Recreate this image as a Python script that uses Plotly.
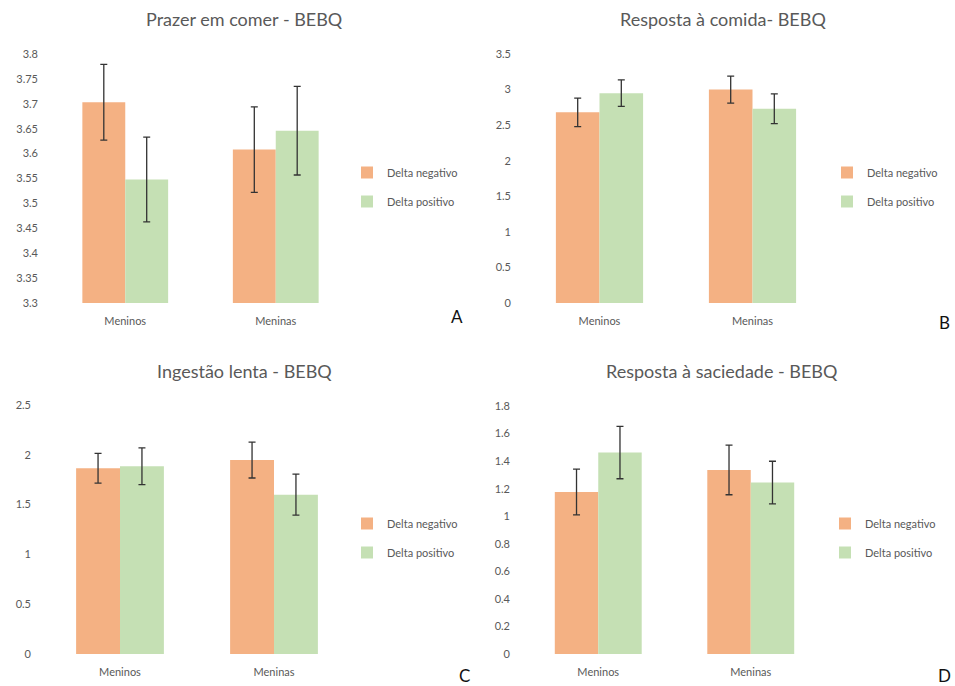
import plotly.graph_objects as go

W, H = 955, 686

categories = ["Meninos", "Meninas"]
series_names = ["Delta negativo", "Delta positivo"]

# Panel A - Prazer em comer
a_neg = [3.703, 3.608]
a_neg_err = [0.076, 0.086]
a_pos = [3.548, 3.646]
a_pos_err = [0.085, 0.089]

# Panel B - Resposta à comida
b_neg = [2.68, 3.00]
b_neg_err = [0.20, 0.19]
b_pos = [2.95, 2.73]
b_pos_err = [0.185, 0.21]

# Panel C - Ingestão lenta
c_neg = [1.865, 1.947]
c_neg_err = [0.15, 0.18]
c_pos = [1.885, 1.60]
c_pos_err = [0.185, 0.205]

# Panel D - Resposta à saciedade
d_neg = [1.176, 1.336]
d_neg_err = [0.166, 0.18]
d_pos = [1.462, 1.244]
d_pos_err = [0.19, 0.155]

titles = ["Prazer em comer - BEBQ", "Resposta à comida- BEBQ",
          "Ingestão lenta - BEBQ", "Resposta à saciedade - BEBQ"]
letters = ["A", "B", "C", "D"]
y_ranges = [[3.3, 3.8], [0, 3.5], [0, 2.5], [0, 1.8]]
y_dticks = [0.05, 0.5, 0.5, 0.2]

neg_color = "#F4B183"
pos_color = "#C5E0B4"
grey = "#595959"
FONT = "Lato"

# panel layout in pixels: (x0, x1, ytop, ybottom)
panels = [
    (50, 351, 54, 303),
    (523, 829, 54, 303),
    (43, 351, 405, 654),
    (522, 827, 406, 654),
]
legend_pos = [(347, 158), (827, 158), (347, 509), (825, 509)]
title_pos = [(244, 19), (723, 19), (244, 371), (722, 371)]
letter_pos = [(457, 316), (944, 322), (464, 675), (944, 675)]

data = [
    (a_neg, a_neg_err, a_pos, a_pos_err),
    (b_neg, b_neg_err, b_pos, b_pos_err),
    (c_neg, c_neg_err, c_pos, c_pos_err),
    (d_neg, d_neg_err, d_pos, d_pos_err),
]

fig = go.Figure()
layout = dict(
    width=W, height=H,
    margin=dict(l=0, r=0, t=0, b=0, autoexpand=False),
    paper_bgcolor="white", plot_bgcolor="white",
    barmode="group", bargap=0.43, bargroupgap=0,
    font=dict(family=FONT, color=grey, size=11),
    annotations=[],
)

for i, (neg, neg_err, pos, pos_err) in enumerate(data):
    k = "" if i == 0 else str(i + 1)
    xa, ya = "x" + k, "y" + k
    leg = "legend" + k
    for name, vals, errs, col, grp in [
        (series_names[0], neg, neg_err, neg_color, "n"),
        (series_names[1], pos, pos_err, pos_color, "p"),
    ]:
        fig.add_trace(go.Bar(
            x=categories, y=vals, name=name,
            marker=dict(color=col, line=dict(width=0)),
            error_y=dict(type="data", array=errs, visible=True,
                         color="#333333", thickness=1.3, width=3.5),
            xaxis=xa, yaxis=ya, legend=leg, legendgroup=grp + k,
            showlegend=True,
        ))
    x0, x1, yt, yb = panels[i]
    layout["xaxis" + k] = dict(
        domain=[x0 / W, x1 / W], anchor=ya, showgrid=False, showline=False,
        zeroline=False, ticks="", tickfont=dict(size=11, color=grey),
        ticklabelstandoff=10, fixedrange=True,
    )
    layout["yaxis" + k] = dict(
        domain=[1 - yb / H, 1 - yt / H], anchor=xa, range=y_ranges[i],
        dtick=y_dticks[i], tick0=y_ranges[i][0], showgrid=False,
        showline=False, zeroline=False, ticks="",
        tickfont=dict(size=11, color=grey), ticklabelstandoff=11,
        fixedrange=True,
    )
    lx, ly = legend_pos[i]
    layout[leg] = dict(
        x=lx / W, y=1 - ly / H, xanchor="left", yanchor="top",
        xref="paper", yref="paper", bgcolor="rgba(0,0,0,0)",
        font=dict(size=11, color=grey), traceorder="grouped",
        tracegroupgap=10, itemclick=False,
    )
    tx, ty = title_pos[i]
    layout["annotations"].append(dict(
        text=titles[i], x=tx / W, y=1 - ty / H, xref="paper", yref="paper",
        xanchor="center", yanchor="middle", showarrow=False,
        font=dict(size=18, color=grey, family=FONT),
    ))
    lx2, ly2 = letter_pos[i]
    layout["annotations"].append(dict(
        text=letters[i], x=lx2 / W, y=1 - ly2 / H, xref="paper", yref="paper",
        xanchor="center", yanchor="middle", showarrow=False,
        font=dict(size=17, color="#111111", family=FONT),
    ))

fig.update_layout(**layout)
fig.write_html("out.html", config={"displayModeBar": False},
               post_script="document.body.style.margin='0';")
